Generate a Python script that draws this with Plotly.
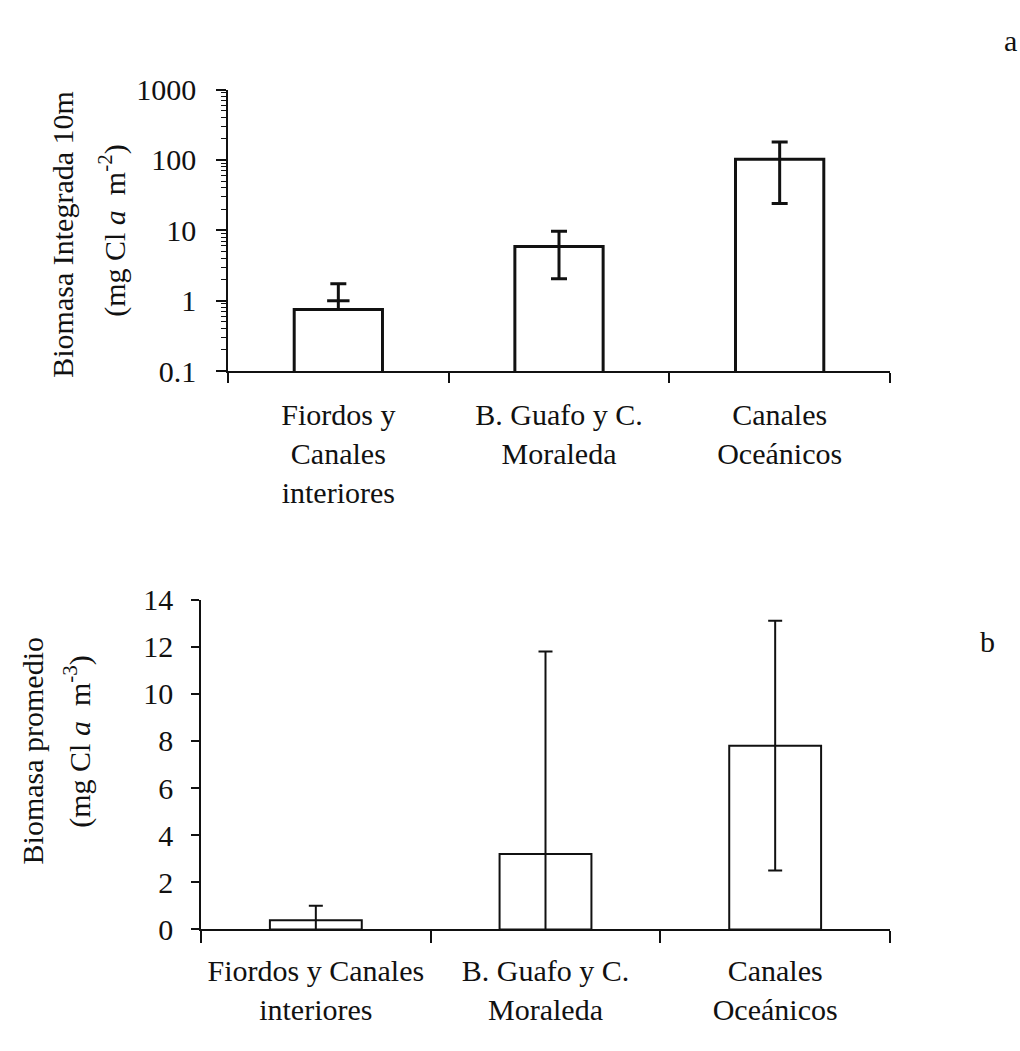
import numpy as np
import plotly.graph_objects as go

# --- data -------------------------------------------------------------
zonas_a = ["Fiordos y<br>Canales<br>interiores", "B. Guafo y C.<br>Moraleda", "Canales<br>Oceánicos"]
zonas_b = ["Fiordos y Canales<br>interiores", "B. Guafo y C.<br>Moraleda", "Canales<br>Oceánicos"]

# (a) integrated biomass, 0-10 m (mg Cl a m-2), log scale
integrada_media = [0.75, 5.9, 102.0]
integrada_sup = [1.75, 9.7, 180.0]
integrada_inf = [1.0, 2.05, 24.0]

# (b) mean biomass (mg Cl a m-3)
promedio_media = [0.39, 3.2, 7.8]
promedio_de = [0.62, 8.6, 5.3]

log_ticks = [0.1, 1, 10, 100, 1000]
log_ticktext = ["0.1", "1", "10", "100", "1000"]
lin_ticks = [0, 2, 4, 6, 8, 10, 12, 14]

# --- layout helpers -----------------------------------------------------
W, H = 1020, 1051
FONT = "Liberation Serif"
INK = "#111111"
FS = 30


def px_x(x):
    return x / W


def px_y(y):
    return 1 - y / H


fig = go.Figure()

med_a = np.array(integrada_media)
up_a = np.array(integrada_sup) - med_a
dn_a = np.clip(med_a - np.array(integrada_inf), 0, None)

fig.add_trace(go.Bar(
    x=zonas_a, y=integrada_media, width=0.4,
    marker=dict(color="white", line=dict(color=INK, width=3)),
    error_y=dict(type="data", symmetric=False, array=up_a, arrayminus=dn_a,
                 color=INK, thickness=3, width=8),
    xaxis="x", yaxis="y", showlegend=False,
))

# lower whisker caps that sit above the bar top
extra_x = [z for z, m, lo in zip(zonas_a, integrada_media, integrada_inf) if lo > m]
extra_y = [lo for m, lo in zip(integrada_media, integrada_inf) if lo > m]
fig.add_trace(go.Scatter(
    x=extra_x, y=extra_y, mode="markers",
    marker=dict(symbol="line-ew", size=16, line=dict(color=INK, width=3)),
    xaxis="x", yaxis="y", showlegend=False, cliponaxis=False,
))

fig.add_trace(go.Bar(
    x=zonas_b, y=promedio_media, width=0.4,
    marker=dict(color="white", line=dict(color=INK, width=2)),
    error_y=dict(type="data", array=promedio_de, color=INK, thickness=2, width=7),
    xaxis="x2", yaxis="y2", showlegend=False,
))

tick_font = dict(family=FONT, size=FS, color=INK)

fig.update_layout(
    width=W, height=H,
    margin=dict(l=0, r=0, t=0, b=0),
    paper_bgcolor="white", plot_bgcolor="white",
    font=dict(family=FONT, size=FS, color=INK),
    xaxis=dict(
        domain=[px_x(228), px_x(890)], anchor="y",
        range=[-0.5, 2.5], tickson="boundaries",
        ticks="outside", ticklen=10, tickwidth=1.5, tickcolor=INK,
        showline=True, linecolor=INK, linewidth=1.5,
        showgrid=False, zeroline=False,
        tickfont=tick_font, ticklabelstandoff=16,
    ),
    yaxis=dict(
        domain=[px_y(366), px_y(75)], anchor="x",
        type="log", range=[-1, 3],
        tickvals=log_ticks, ticktext=log_ticktext,
        ticks="outside", ticklen=10, tickwidth=1.5, tickcolor=INK,
        minor=dict(ticks="outside", ticklen=5, tickwidth=1, tickcolor=INK,
                   dtick="D1", showgrid=False),
        showline=True, linecolor=INK, linewidth=1.5,
        showgrid=False, zeroline=False,
        tickfont=tick_font, ticklabelstandoff=14,
    ),
    xaxis2=dict(
        domain=[px_x(201), px_x(890)], anchor="y2",
        range=[-0.5, 2.5], tickson="boundaries",
        ticks="outside", ticklen=12, tickwidth=1.5, tickcolor=INK,
        showline=True, linecolor=INK, linewidth=1.5,
        showgrid=False, zeroline=False,
        tickfont=tick_font, ticklabelstandoff=14,
    ),
    yaxis2=dict(
        domain=[px_y(943), px_y(602)], anchor="x2",
        range=[0, 14], tickvals=lin_ticks,
        ticks="outside", ticklen=8, tickwidth=1.5, tickcolor=INK,
        showline=True, linecolor=INK, linewidth=1.5,
        showgrid=False, zeroline=False,
        tickfont=tick_font, ticklabelstandoff=12,
    ),
)

titles = [
    ("Biomasa Integrada 10m", 63, 225),
    ("(mg Cl <i>a</i>  m<sup>-2</sup>)", 113, 221),
    ("Biomasa promedio", 32, 759),
    ("(mg Cl <i>a</i>  m<sup>-3</sup>)", 78, 749),
]
for text, x, y in titles:
    fig.add_annotation(
        text=text, x=px_x(x), y=px_y(y), xref="paper", yref="paper",
        textangle=-90, showarrow=False, xanchor="center", yanchor="middle",
        font=dict(family=FONT, size=FS, color=INK),
    )

for text, x, y in [("a", 1010, 24), ("b", 987, 645)]:
    fig.add_annotation(
        text=text, x=px_x(x), y=px_y(y), xref="paper", yref="paper",
        showarrow=False, xanchor="center", yanchor="middle",
        font=dict(family=FONT, size=FS, color=INK),
    )

fig.write_html("out.html")
